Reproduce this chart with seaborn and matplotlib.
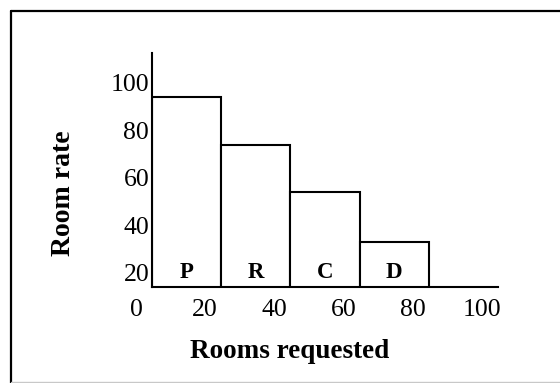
import matplotlib
matplotlib.use("Agg")
import matplotlib.transforms as mtransforms
from matplotlib.lines import Line2D
from matplotlib import pyplot as plt
import seaborn as sns

# bar data
bar_labels = ['P', 'R', 'C', 'D']
bar_centers = [10, 30, 50, 70]
room_rates = [94, 74, 54, 33]
x_ticks = [0, 20, 40, 60, 80, 100]
y_ticks = [20, 40, 60, 80, 100]

sns.set_style('white')
plt.rcParams['font.family'] = ['Liberation Serif', 'DejaVu Serif']
plt.rcParams['text.color'] = 'black'
plt.rcParams['xtick.color'] = 'black'
plt.rcParams['ytick.color'] = 'black'
plt.rcParams['axes.labelcolor'] = 'black'

fig = plt.figure(figsize=(5.6, 3.83), dpi=100)
ax = fig.add_axes([152 / 560, 96 / 383, 346 / 560, 234 / 383])

sns.barplot(x=bar_centers, y=room_rates, native_scale=True, width=1,
            color='white', edgecolor='black', linewidth=1.5, ax=ax)

for name, cx in zip(bar_labels, bar_centers):
    ax.text(cx, 20.4, name, ha='center', va='center', fontsize=16.5,
            fontweight='bold', color='black')

ax.set_xlim(0, 100)
ax.set_ylim(14.1, 112.6)
ax.set_xticks(x_ticks)
ax.set_yticks(y_ticks)
ax.set_xticklabels([str(v) for v in x_ticks], fontsize=18.5)
ax.set_yticklabels([str(v) for v in y_ticks], fontsize=18.5)
ax.tick_params(axis='both', length=0)
ax.tick_params(axis='x', pad=9)
ax.tick_params(axis='y', pad=2)
shift = mtransforms.ScaledTranslation(-16 / 100, 0, fig.dpi_scale_trans)
for lab in ax.get_xticklabels():
    lab.set_transform(lab.get_transform() + shift)

sns.despine(ax=ax)
for side in ['left', 'bottom']:
    ax.spines[side].set_linewidth(1.5)
    ax.spines[side].set_color('black')

ax.set_xlabel('Rooms requested', fontsize=19.5, fontweight='bold')
ax.set_ylabel('Room rate', fontsize=20, fontweight='bold')
ax.xaxis.set_label_coords(138 / 346, -65 / 234)
ax.yaxis.set_label_coords(-89 / 346, 94 / 234)
ax.xaxis.label.set_va('center')
ax.yaxis.label.set_va('center')

# frame around the picture
H = 383
fig.add_artist(Line2D([11 / 560, 1], [1 - 11 / H, 1 - 11 / H], color='black', lw=1.6))
fig.add_artist(Line2D([11 / 560, 11 / 560], [0, 1 - 11 / H], color='black', lw=1.6))
fig.add_artist(Line2D([11 / 560, 1], [1.5 / H, 1.5 / H], color='#c8c8c8', lw=1))

plt.savefig('out.png', dpi=100)
